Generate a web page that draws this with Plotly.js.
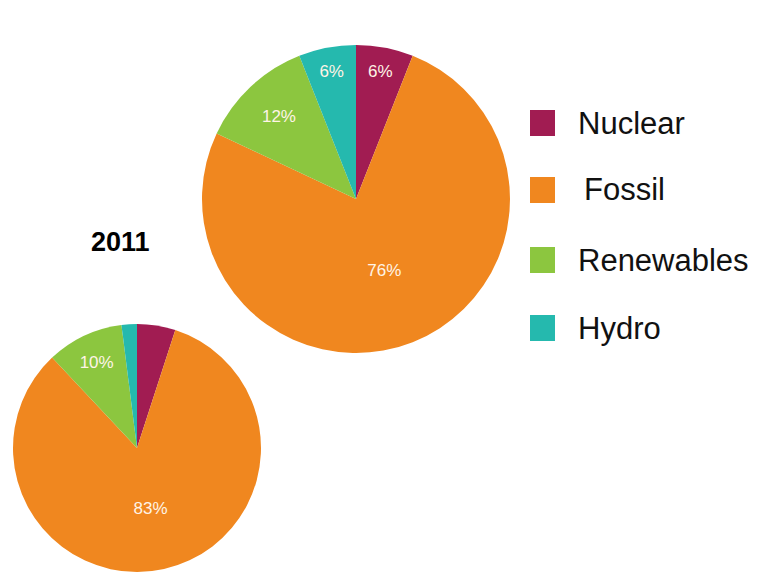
<!DOCTYPE html>
<html>
<head>
<meta charset="utf-8">
<script src="https://cdn.plot.ly/plotly-3.0.1.min.js"></script>
<style>html,body{margin:0;padding:0;background:#fff;}#chart{width:761px;height:582px;}</style>
</head>
<body>
<div id="chart"></div>
<script>
const categories = ["Nuclear", "Fossil", "Renewables", "Hydro"];
const colors = ["#a11c52", "#f0871f", "#8cc63f", "#25b9ae"];
const valuesTop = [6, 76, 12, 6];
const valuesBottom = [5, 83, 10, 2];
const labelsBottom = ["", "%{percent}", "%{percent}", ""];
const yearLabel = "2011";

const W = 761, H = 582;
function dom(cx, cy, r) {
  return {x: [(cx - r) / W, (cx + r) / W], y: [1 - (cy + r) / H, 1 - (cy - r) / H]};
}

const common = {
  type: "pie",
  labels: categories,
  sort: false,
  direction: "clockwise",
  rotation: 0,
  marker: {colors: colors, line: {width: 0}},
  textinfo: "percent",
  textposition: "inside",
  insidetextorientation: "horizontal",
  textfont: {color: "#fff4e6", size: 17, family: "Liberation Sans, Arial, sans-serif"},
  hoverinfo: "label+percent",
  showlegend: false
};

const traces = [
  Object.assign({}, common, {values: valuesTop, domain: dom(356, 199, 154)}),
  Object.assign({}, common, {values: valuesBottom, texttemplate: labelsBottom, domain: dom(137, 448, 124)})
];

const shapes = [], annotations = [];
const legendY = [123, 190, 260, 328];
const legendTextX = [576, 582, 576, 576];
categories.forEach((c, i) => {
  const y = legendY[i];
  shapes.push({type: "rect", xref: "paper", yref: "paper",
    x0: 530 / W, x1: 555 / W, y0: 1 - (y + 13) / H, y1: 1 - (y - 13) / H,
    fillcolor: colors[i], line: {width: 0}});
  annotations.push({xref: "paper", yref: "paper", x: legendTextX[i] / W, y: 1 - y / H,
    xanchor: "left", yanchor: "middle", showarrow: false, text: c,
    font: {size: 31, color: "#111111", family: "Liberation Sans, Arial, sans-serif"}});
});
annotations.push({xref: "paper", yref: "paper", x: 120 / W, y: 1 - 242 / H,
  xanchor: "center", yanchor: "middle", showarrow: false, text: "<b>" + yearLabel + "</b>",
  font: {size: 27, color: "#000000", family: "Liberation Sans, Arial, sans-serif"}});

const layout = {
  width: W, height: H,
  margin: {l: 0, r: 0, t: 0, b: 0},
  paper_bgcolor: "#ffffff",
  plot_bgcolor: "#ffffff",
  showlegend: false,
  shapes: shapes,
  annotations: annotations
};

Plotly.newPlot("chart", traces, layout, {displayModeBar: false, staticPlot: true});
</script>
</body>
</html>
